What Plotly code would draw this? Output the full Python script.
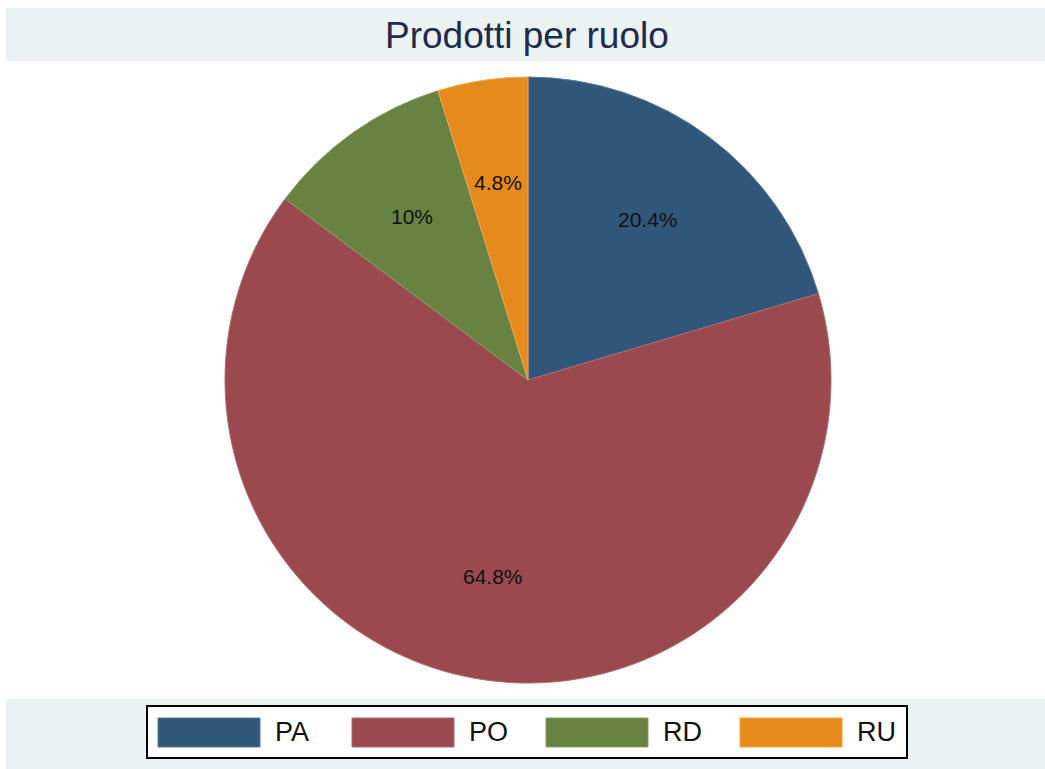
import math
import plotly.graph_objects as go

categories = ["PA", "PO", "RD", "RU"]
values = [20.4, 64.8, 10.0, 4.8]
labels_txt = ["20.4%", "64.8%", "10%", "4.8%"]
colors = ["#30577A", "#9A494F", "#688242", "#E58A1B"]
line_colors = ["#5A7A98", "#B06A6F", "#86A064", "#F0A650"]

W, H = 1045, 769
cx, cy, R = 528, 380, 303

def px(x):
    return x / W

def py(y):
    return 1 - y / H

fig = go.Figure()
fig.add_trace(go.Pie(
    labels=categories, values=values, sort=False, direction="clockwise",
    rotation=0, textinfo="none", showlegend=False,
    marker=dict(colors=colors, line=dict(color=line_colors, width=1)),
    domain=dict(x=[px(cx - R), px(cx + R)], y=[py(cy + R), py(cy - R)]),
))

shapes = []
annotations = []
shapes.append(dict(type="rect", xref="paper", yref="paper", x0=px(6), x1=1, y0=py(61), y1=py(8),
                   fillcolor="#EAF2F3", line=dict(width=0), layer="below"))
shapes.append(dict(type="rect", xref="paper", yref="paper", x0=px(6), x1=1, y0=0, y1=py(699),
                   fillcolor="#EAF2F3", line=dict(width=0), layer="below"))
shapes.append(dict(type="rect", xref="paper", yref="paper", x0=px(147), x1=px(907), y0=py(758), y1=py(706),
                   fillcolor="white", line=dict(color="black", width=2), layer="below"))

total = sum(values)
cum = 0
for i, (cat, v) in enumerate(zip(categories, values)):
    mid = (cum + v / 2) / total * 2 * math.pi
    cum += v
    r_lab = 0.66 * R
    lx = cx + r_lab * math.sin(mid)
    ly = cy - r_lab * math.cos(mid)
    annotations.append(dict(x=px(lx), y=py(ly), xref="paper", yref="paper", text=labels_txt[i],
                            xanchor="center", yanchor="middle", showarrow=False,
                            font=dict(family="Liberation Sans, Arial", size=21, color="#111111")))
    sx = 158 + 194 * i
    shapes.append(dict(type="rect", xref="paper", yref="paper", x0=px(sx), x1=px(sx + 102),
                       y0=py(747), y1=py(718), fillcolor=colors[i],
                       line=dict(color=line_colors[i], width=1)))
    annotations.append(dict(x=px(sx + 115), y=py(732), xref="paper", yref="paper", text=cat,
                            xanchor="left", yanchor="middle", showarrow=False,
                            font=dict(family="Liberation Sans, Arial", size=27, color="#111111")))

annotations.append(dict(x=px(527), y=py(35), xref="paper", yref="paper", text="Prodotti per ruolo",
                        showarrow=False, xanchor="center", yanchor="middle",
                        font=dict(family="Liberation Sans, Arial", size=37, color="#1E2B4A")))

fig.update_layout(
    width=W, height=H, margin=dict(l=0, r=0, t=0, b=0),
    paper_bgcolor="white", plot_bgcolor="white",
    shapes=shapes, annotations=annotations, showlegend=False,
)
fig.write_html("out.html", config={"displayModeBar": False})

with open("out.html", "r", encoding="utf-8") as f:
    html = f.read()
html = html.replace("<body>", '<body style="margin:0;padding:0;overflow:hidden">', 1)
with open("out.html", "w", encoding="utf-8") as f:
    f.write(html)
